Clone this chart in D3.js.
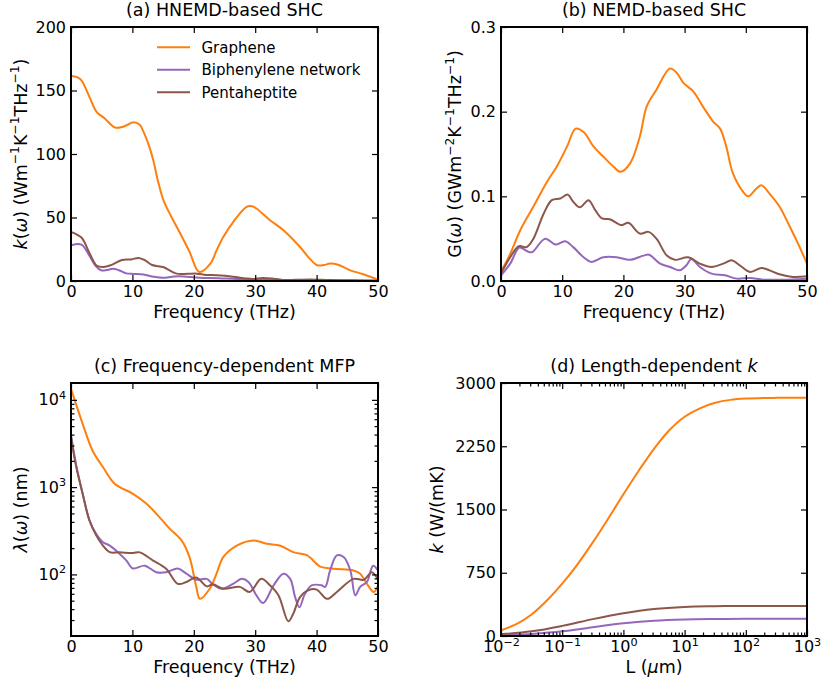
<!DOCTYPE html>
<html>
<head>
<meta charset="utf-8">
<script src="https://cdn.jsdelivr.net/npm/d3@7"></script>
<style>
  body { margin: 0; background: #fff; }
  text { font-family: "DejaVu Sans", sans-serif; fill: #000; }
</style>
</head>
<body>
<svg id="fig" width="822" height="685"></svg>
<script>
// ---- series names and colours ----
const seriesNames = ["Graphene", "Biphenylene network", "Pentaheptite"];
const seriesColors = ["#ff7f0e", "#9467bd", "#8c564b"];

// ---- tick values ----
const freqTicks = [0, 10, 20, 30, 40, 50];
const shcTicks = [0, 50, 100, 150, 200];
const gTicks = [0, 0.1, 0.2, 0.3];
const mfpTicks = [1e2, 1e3, 1e4];
const lenTicks = [1e-2, 1e-1, 1e0, 1e1, 1e2, 1e3];
const kTicks = [0, 750, 1500, 2250, 3000];

// ---- (a) HNEMD spectral heat current: [frequency THz, k(w)] ----
const shcGraphene = [[0,161.5],[1,160.5],[1.7,158],[3,145],[4.2,133],[5.5,128],[7.2,120.8],[8.5,121.5],[10.2,125],[11.2,123],[11.8,117.6],[12.8,105],[13.4,95],[14.2,78],[15.05,63.7],[16.3,51],[17.8,37.4],[19.3,23],[20.9,7.1],[22.7,13.7],[23.7,24],[24.8,34.7],[26.5,47],[28.6,58.4],[29.5,58.8],[30.2,57.1],[32.4,47.9],[34.6,40],[37.3,26.8],[38.8,18],[40.1,12.4],[41.2,12.6],[42.2,13.7],[43.5,12.8],[45.5,8.4],[47.5,5.5],[50,1]];
const shcBiphenylene = [[0,28.2],[1.7,28.7],[2.8,21.6],[4.0,12],[4.9,8.5],[5.8,8.6],[6.8,9.6],[7.8,8.5],[9,6],[10.2,5.6],[11.8,5.2],[13.5,3.3],[15,2.5],[16.5,3.4],[17.8,3.8],[19.5,3.1],[20.9,2.6],[24,2.2],[27,1.6],[30,1.5],[33,1.0],[36,0.6],[40,0.5],[45,0.3],[50,0.1]];
const shcPentaheptite = [[0,38.7],[1.7,34.2],[3,22],[4.2,12],[5.3,11],[6.5,12.5],[8.3,16.6],[9.8,17],[11,18.2],[12,16.5],[13.2,12.6],[15,11],[16,8.5],[17.2,5.8],[19,5.7],[20.5,5.8],[22,4.8],[23.7,4.5],[26.4,3.4],[28.5,2],[29.6,1.6],[31.2,2.4],[33,1.8],[34.6,0.8],[36.5,0.9],[39,1.2],[42,0.8],[45,0.6],[48,0.4],[50,0.2]];

// ---- (b) NEMD spectral conductance: [frequency THz, G(w)] ----
const condGraphene = [[0,0.011],[1.5,0.032],[3.15,0.06],[5.3,0.088],[7.5,0.117],[9.1,0.135],[10.8,0.159],[12.2,0.180],[13.5,0.176],[15.1,0.159],[16.7,0.147],[18.4,0.135],[19.5,0.129],[21.1,0.139],[22.7,0.171],[23.8,0.206],[25.4,0.226],[27.6,0.251],[28.7,0.246],[29.8,0.234],[31.4,0.224],[33,0.206],[34.7,0.188],[35.8,0.180],[36.8,0.159],[37.9,0.127],[39.6,0.105],[40.4,0.100],[41.7,0.109],[42.55,0.113],[43.9,0.103],[45.5,0.088],[47.2,0.064],[48.8,0.040],[50,0.0205]];
const condBiphenylene = [[0,0.0067],[1.5,0.0205],[3,0.0395],[4.2,0.0355],[5.05,0.034],[7.2,0.050],[8.9,0.043],[10.5,0.047],[11.8,0.040],[13.5,0.028],[14.8,0.0225],[16.7,0.028],[18.9,0.028],[21.1,0.025],[23.3,0.030],[24.2,0.031],[26,0.0205],[27.6,0.0166],[29.2,0.0126],[30.3,0.0186],[31.1,0.026],[32.5,0.0166],[34.4,0.0087],[36.6,0.0067],[38.5,0.0028],[40.7,0.0036],[42.8,0.0016],[46,0.0016],[50,0.0028]];
const condPentaheptite = [[0,0.009],[1.5,0.028],[2.9,0.041],[4.2,0.040],[5.3,0.050],[7,0.080],[8.3,0.0955],[9.7,0.0975],[10.9,0.102],[11.8,0.0936],[12.9,0.087],[14.3,0.0955],[15.4,0.0837],[16.5,0.074],[17.8,0.073],[19.7,0.066],[20.8,0.0687],[22.7,0.056],[24.1,0.058],[25.4,0.050],[27.1,0.030],[28.4,0.025],[30.6,0.028],[32.5,0.0205],[34.4,0.0166],[36.3,0.0205],[37.7,0.0245],[39,0.0186],[40.7,0.0107],[42.55,0.0154],[43.9,0.0126],[45.5,0.0079],[47.7,0.0047],[50,0.0055]];

// ---- (c) frequency-dependent mean free path: [frequency THz, lambda nm] ----
const mfpGraphene = [[0,13370],[0.8,8995],[1.9,5309],[3.5,2630],[5.2,1698],[7.1,1096],[10.1,839],[12.3,646],[14.4,453],[16.1,333],[18,245],[19.3,158],[20.4,72],[21,52.5],[22.6,68.5],[23.7,102],[24.8,158],[27,214],[29.7,245],[31.9,224],[34,214],[36.2,180],[38.4,166],[40,132],[40.6,123],[42.8,116],[46,111],[47.1,102],[48.2,78],[49.3,63],[50,74]];
const mfpBiphenylene = [[0,3981],[0.8,1849],[1.9,839],[3,417],[4.1,292],[5.2,234],[6.3,214],[7.9,173],[9,145],[10.1,117],[12,126],[13.9,106],[15.5,106],[17.4,117],[18.8,102],[20.4,87],[22.1,89],[23.1,77],[24.5,68.5],[26.4,78],[27.8,89],[28.9,82],[30.2,57.5],[31.3,47],[33,75],[34.6,102],[35.7,89],[36.5,55],[37.2,42],[38.1,60],[39.2,75],[40.8,75],[41.4,72],[42.2,111],[43.3,165],[44.4,158],[45.5,111],[46.3,57.5],[47.1,72],[48.2,82],[49.2,126],[50,111]];
const mfpPentaheptite = [[0,3715],[0.8,1778],[1.9,839],[3,417],[4.1,280],[5.2,214],[6.3,180],[7.9,179],[10.1,176],[11.2,179],[13.3,145],[15.5,116],[17.4,78],[18.8,82],[20.4,92],[22.1,73],[23.1,77],[24.8,68.5],[27.5,72],[29.1,63],[31,89],[32.4,75],[33.8,57.5],[35.4,29],[36.2,35.5],[37.3,55],[38.7,66],[40,67],[41.7,52.5],[43.3,63],[46,89],[47.7,87],[49,106],[50,87]];

// ---- (d) length-dependent conductivity: [L um, k W/mK] ----
const lenGraphene = [[0.01,67],[0.0178,140],[0.0316,255],[0.0562,420],[0.1,620],[0.178,850],[0.316,1110],[0.562,1390],[1,1680],[1.78,1960],[3.16,2220],[5.62,2440],[10,2600],[17.8,2700],[31.6,2765],[56.2,2800],[100,2815],[316,2824],[1000,2826]];
const lenBiphenylene = [[0.01,8],[0.0316,25],[0.1,55],[0.316,105],[1,150],[3.16,182],[10,197],[31.6,202],[100,204],[1000,205]];
const lenPentaheptite = [[0.01,20],[0.0316,55],[0.1,120],[0.316,200],[1,270],[3.16,320],[10,345],[31.6,353],[100,356],[1000,357]];

const svg = d3.select("#fig");
svg.append("rect").attr("width", 822).attr("height", 685).attr("fill", "#fff");

// Appends tspans to a text node: parts = [[string, flags]], flags: "i" italic, "s" superscript
function rich(sel, parts, size) {
  let shift = 0;
  parts.forEach(([t, flags = ""]) => {
    const sup = flags.includes("s");
    const target = sup ? -0.42 * size : 0;
    const ts = sel.append("tspan")
      .text(t)
      .style("font-size", (sup ? size * 0.7 : size) + "px")
      .style("font-style", flags.includes("i") ? "italic" : "normal");
    if (target !== shift) ts.attr("dy", (target - shift) + "px");
    shift = target;
  });
}

const TICK_FS = 16, LABEL_FS = 17.5;
let clipCount = 0;

function drawPanel(o) {
  const { box, x, y } = o;
  const g = svg.append("g");
  const clipId = "clip" + (clipCount++);
  g.append("clipPath").attr("id", clipId)
    .append("rect").attr("x", box.l).attr("y", box.t)
    .attr("width", box.r - box.l).attr("height", box.b - box.t);

  const line = d3.line().x(d => x(d[0])).y(d => y(d[1])).curve(d3.curveCatmullRom.alpha(0.5));
  const lines = g.append("g").attr("clip-path", `url(#${clipId})`);
  o.series.forEach((s, i) => {
    lines.append("path").datum(s)
      .attr("d", line)
      .attr("fill", "none")
      .attr("stroke", seriesColors[i])
      .attr("stroke-width", 2)
      .attr("stroke-linejoin", "round")
      .attr("stroke-linecap", "round");
  });

  function axis(gen, tr, values, size, fmt) {
    const a = g.append("g").attr("transform", tr)
      .call(gen.tickValues(values).tickSize(-size).tickPadding(o.pad || 5).tickFormat(fmt || (() => "")));
    a.select(".domain").remove();
    a.attr("font-family", null).attr("font-size", null);
    a.selectAll(".tick line").attr("stroke", "#000").attr("stroke-width", 1.2);
    a.selectAll("text").style("font-size", TICK_FS + "px");
    return a;
  }
  const bx = axis(d3.axisBottom(x), `translate(0,${box.b})`, o.xTicks, 6, o.xFmt || (d => d));
  axis(d3.axisTop(x), `translate(0,${box.t})`, o.xTicks, 6);
  const ly = axis(d3.axisLeft(y), `translate(${box.l},0)`, o.yTicks, 6, o.yFmt || (d => d));
  axis(d3.axisRight(y), `translate(${box.r},0)`, o.yTicks, 6);
  if (o.xMinor) {
    axis(d3.axisBottom(x), `translate(0,${box.b})`, o.xMinor, 3.5);
    axis(d3.axisTop(x), `translate(0,${box.t})`, o.xMinor, 3.5);
  }
  if (o.yMinor) {
    axis(d3.axisLeft(y), `translate(${box.l},0)`, o.yMinor, 3.5);
    axis(d3.axisRight(y), `translate(${box.r},0)`, o.yMinor, 3.5);
  }
  // power-of-ten labels
  const pow = function (d) {
    const t = d3.select(this).text(null);
    rich(t, [["10"], [String(Math.round(Math.log10(d))).replace("-", "\u2212"), "s"]], TICK_FS);
  };
  if (o.xPow) bx.selectAll(".tick text").each(pow);
  if (o.yPow) ly.selectAll(".tick text").each(pow);

  // frame
  g.append("rect").attr("x", box.l).attr("y", box.t)
    .attr("width", box.r - box.l).attr("height", box.b - box.t)
    .attr("fill", "none").attr("stroke", "#000").attr("stroke-width", 2);

  const cx = (box.l + box.r) / 2, cy = (box.t + box.b) / 2;
  rich(g.append("text").attr("x", cx).attr("y", box.t - 11).attr("text-anchor", "middle"), o.title, LABEL_FS);
  rich(g.append("text").attr("x", cx).attr("y", box.b + 37).attr("text-anchor", "middle"), o.xlabel, LABEL_FS);
  rich(g.append("text").attr("text-anchor", "middle")
    .attr("transform", `translate(${o.ylabelX},${cy}) rotate(-90)`), o.ylabel, LABEL_FS);
  return g;
}

function minorLog(lo, hi) {
  const out = [];
  for (let e = Math.floor(Math.log10(lo)); e <= Math.ceil(Math.log10(hi)); e++)
    for (let k = 2; k <= 9; k++) {
      const v = k * Math.pow(10, e);
      if (v >= lo && v <= hi) out.push(v);
    }
  return out;
}

const boxA = { l: 71, r: 378, t: 27, b: 281 };
const boxB = { l: 501, r: 807, t: 27, b: 281 };
const boxC = { l: 71, r: 378, t: 383, b: 636 };
const boxD = { l: 501, r: 807, t: 383, b: 636 };

// (a)
const gA = drawPanel({
  box: boxA,
  x: d3.scaleLinear([0, 50], [boxA.l, boxA.r]),
  y: d3.scaleLinear([0, 200], [boxA.b, boxA.t]),
  xTicks: freqTicks, yTicks: shcTicks,
  series: [shcGraphene, shcBiphenylene, shcPentaheptite],
  title: [["(a) HNEMD-based SHC"]],
  xlabel: [["Frequency (THz)"]],
  ylabel: [["k", "i"], ["("], ["\u03c9", "i"], [") (Wm"], ["\u22121", "s"], ["K"], ["\u22121", "s"], ["THz"], ["\u22121", "s"], [")"]],
  ylabelX: 26.5
});

// legend
const legend = gA.append("g");
seriesNames.forEach((name, i) => {
  const yy = 47.3 + i * 22.5;
  legend.append("line").attr("x1", 157).attr("x2", 190).attr("y1", yy).attr("y2", yy)
    .attr("stroke", seriesColors[i]).attr("stroke-width", 2);
  legend.append("text").attr("x", 201.5).attr("y", yy + 5.4).style("font-size", "15px").text(name);
});

// (b)
drawPanel({
  box: boxB,
  x: d3.scaleLinear([0, 50], [boxB.l, boxB.r]),
  y: d3.scaleLinear([0, 0.3], [boxB.b, boxB.t]),
  xTicks: freqTicks, yTicks: gTicks, yFmt: d3.format(".1f"),
  series: [condGraphene, condBiphenylene, condPentaheptite],
  title: [["(b) NEMD-based SHC"]],
  xlabel: [["Frequency (THz)"]],
  ylabel: [["G("], ["\u03c9", "i"], [") (GWm"], ["\u22122", "s"], ["K"], ["\u22121", "s"], ["THz"], ["\u22121", "s"], [")"]],
  ylabelX: 461
});

// (c)
const yC = d3.scaleLog([19.7, 15600], [boxC.b, boxC.t]);
drawPanel({
  box: boxC,
  x: d3.scaleLinear([0, 50], [boxC.l, boxC.r]),
  y: yC,
  xTicks: freqTicks, yTicks: mfpTicks, yMinor: minorLog(19.7, 15600), yPow: true,
  series: [mfpGraphene, mfpBiphenylene, mfpPentaheptite],
  title: [["(c) Frequency-dependent MFP"]],
  xlabel: [["Frequency (THz)"]],
  ylabel: [["\u03bb", "i"], ["("], ["\u03c9", "i"], [") (nm)"]],
  ylabelX: 26.5
});

// (d)
drawPanel({
  box: boxD,
  x: d3.scaleLog([1e-2, 1e3], [boxD.l, boxD.r]),
  y: d3.scaleLinear([0, 3000], [boxD.b, boxD.t]),
  xTicks: lenTicks, xMinor: minorLog(1e-2, 1e3), xPow: true, yTicks: kTicks,
  series: [lenGraphene, lenBiphenylene, lenPentaheptite],
  title: [["(d) Length-dependent "], ["k", "i"]],
  xlabel: [["L ("], ["\u03bc", "i"], ["m)"]],
  ylabel: [["k", "i"], [" (W/(mK)"]],
  ylabelX: 443
});
</script>
</body>
</html>
